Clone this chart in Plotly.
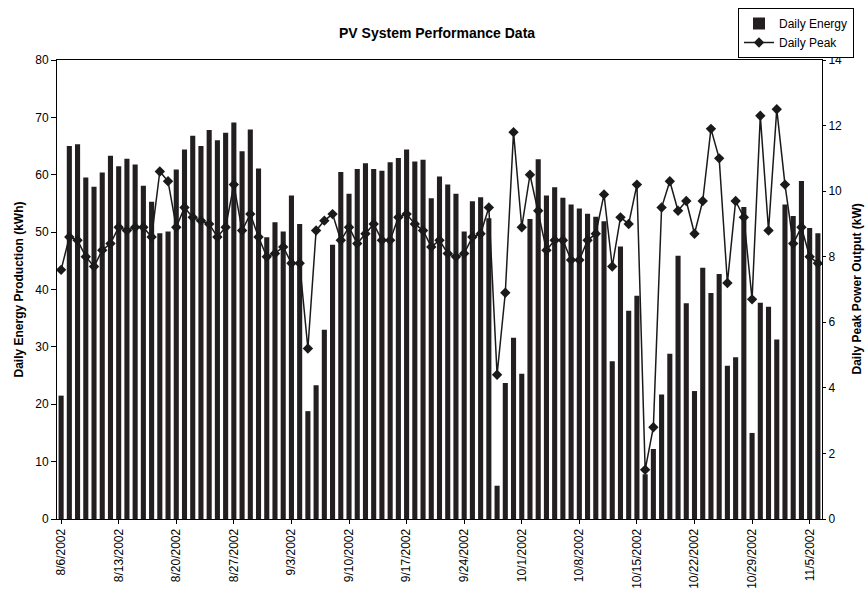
import pandas as pd
import plotly.graph_objects as go

# daily values, 8/6/2002 .. 11/6/2002
dates = pd.date_range("2002-08-06", "2002-11-06", freq="D")

daily_energy = [
    21.5, 65.0, 65.3, 59.5, 57.9, 60.4, 63.3, 61.5, 62.8, 61.8,
    58.1, 55.3, 49.8, 50.1, 60.9, 64.4, 66.8, 65.0, 67.8, 66.0,
    67.3, 69.1, 64.1, 67.9, 61.1, 49.1, 51.7, 50.1, 56.4, 51.4,
    18.8, 23.3, 33.0, 47.8, 60.5, 56.7, 61.0, 62.0, 61.0, 60.7,
    62.2, 62.9, 64.4, 62.3, 62.6, 55.9, 59.7, 58.3, 56.7, 50.1,
    55.4, 56.1, 52.4, 5.8, 23.7, 31.6, 25.3, 52.3, 62.7, 56.4,
    57.8, 56.0, 54.8, 54.1, 53.2, 52.7, 51.9, 27.5, 47.5, 36.3,
    38.9, 7.8, 12.2, 21.7, 28.8, 45.9, 37.6, 22.3, 43.8, 39.4,
    42.7, 26.7, 28.2, 54.4, 15.0, 37.7, 37.0, 31.3, 54.8, 52.8,
    58.9, 50.7, 49.8,
]

daily_peak = [
    7.6, 8.6, 8.5, 8.0, 7.7, 8.2, 8.4, 8.9, 8.8, 8.9,
    8.9, 8.6, 10.6, 10.3, 8.9, 9.5, 9.2, 9.1, 9.0, 8.6,
    8.9, 10.2, 8.8, 9.3, 8.6, 8.0, 8.1, 8.3, 7.8, 7.8,
    5.2, 8.8, 9.1, 9.3, 8.5, 8.9, 8.4, 8.7, 9.0, 8.5,
    8.5, 9.2, 9.3, 9.0, 8.8, 8.3, 8.5, 8.1, 8.0, 8.1,
    8.6, 8.7, 9.5, 4.4, 6.9, 11.8, 8.9, 10.5, 9.4, 8.2,
    8.5, 8.5, 7.9, 7.9, 8.5, 8.7, 9.9, 7.7, 9.2, 9.0,
    10.2, 1.5, 2.8, 9.5, 10.3, 9.4, 9.7, 8.7, 9.7, 11.9,
    11.0, 7.2, 9.7, 9.2, 6.7, 12.3, 8.8, 12.5, 10.2, 8.4,
    8.9, 8.0, 7.8,
]

tick_dates = pd.date_range("2002-08-06", "2002-11-05", freq="7D")
tick_labels = [f"{d.month}/{d.day}/{d.year}" for d in tick_dates]

fig = go.Figure()

fig.add_trace(
    go.Bar(
        x=dates,
        y=daily_energy,
        name="Daily Energy",
        marker=dict(color="#231f20", line=dict(width=0)),
        yaxis="y",
    )
)

fig.add_trace(
    go.Scatter(
        x=dates,
        y=daily_peak,
        name="Daily Peak",
        mode="lines+markers",
        line=dict(color="#1a1a1a", width=1.5),
        marker=dict(symbol="diamond", size=8, color="#1a1a1a"),
        yaxis="y2",
    )
)

font_family = "Liberation Sans, Arial, sans-serif"

fig.update_layout(
    width=867,
    height=598,
    paper_bgcolor="white",
    plot_bgcolor="white",
    margin=dict(l=57, r=45, t=60, b=79, autoexpand=False),
    font=dict(family=font_family, size=12, color="black"),
    bargap=0.38,
    showlegend=True,
    legend=dict(
        x=(738 - 57) / 765,
        y=(519 - 8) / 459,
        xanchor="left",
        yanchor="top",
        bordercolor="black",
        borderwidth=1,
        bgcolor="white",
        font=dict(size=12),
        tracegroupgap=0,
        itemwidth=30,
    ),
    xaxis=dict(
        type="date",
        range=["2002-08-05 12:00", "2002-11-06 12:00"],
        tickvals=tick_dates,
        ticktext=tick_labels,
        tickangle=-90,
        ticks="outside",
        ticklen=4,
        tickcolor="black",
        showline=True,
        linecolor="black",
        linewidth=1,
        mirror=True,
        showgrid=False,
        zeroline=False,
        tickfont=dict(size=12),
    ),
    yaxis=dict(
        range=[0, 80],
        dtick=10,
        ticks="outside",
        ticklen=5,
        tickcolor="black",
        showline=True,
        linecolor="black",
        linewidth=1,
        showgrid=False,
        zeroline=False,
        tickfont=dict(size=12),
    ),
    yaxis2=dict(
        range=[0, 14],
        dtick=2,
        overlaying="y",
        side="right",
        ticks="outside",
        ticklen=3,
        tickcolor="black",
        showline=True,
        linecolor="black",
        linewidth=1,
        showgrid=False,
        zeroline=False,
        tickfont=dict(size=12),
    ),
)

fig.add_annotation(
    text="<b>PV System Performance Data</b>",
    xref="paper",
    yref="paper",
    x=(437 - 57) / 765,
    y=(519 - 33) / 459,
    xanchor="center",
    yanchor="middle",
    showarrow=False,
    font=dict(size=14),
)

fig.add_annotation(
    text="<b>Daily Energy Production (kWh)</b>",
    xref="paper",
    yref="paper",
    x=(18 - 57) / 765,
    y=0.5,
    xanchor="center",
    yanchor="middle",
    textangle=-90,
    showarrow=False,
    font=dict(size=12),
)

fig.add_annotation(
    text="<b>Daily Peak Power Output (kW)</b>",
    xref="paper",
    yref="paper",
    x=(856 - 57) / 765,
    y=0.5,
    xanchor="center",
    yanchor="middle",
    textangle=-90,
    showarrow=False,
    font=dict(size=12),
)

# the page's default body margin would shift the 867x598 figure off the window
fig.write_html(
    "out.html",
    config={"displayModeBar": False},
    post_script="document.body.style.margin='0';",
)
